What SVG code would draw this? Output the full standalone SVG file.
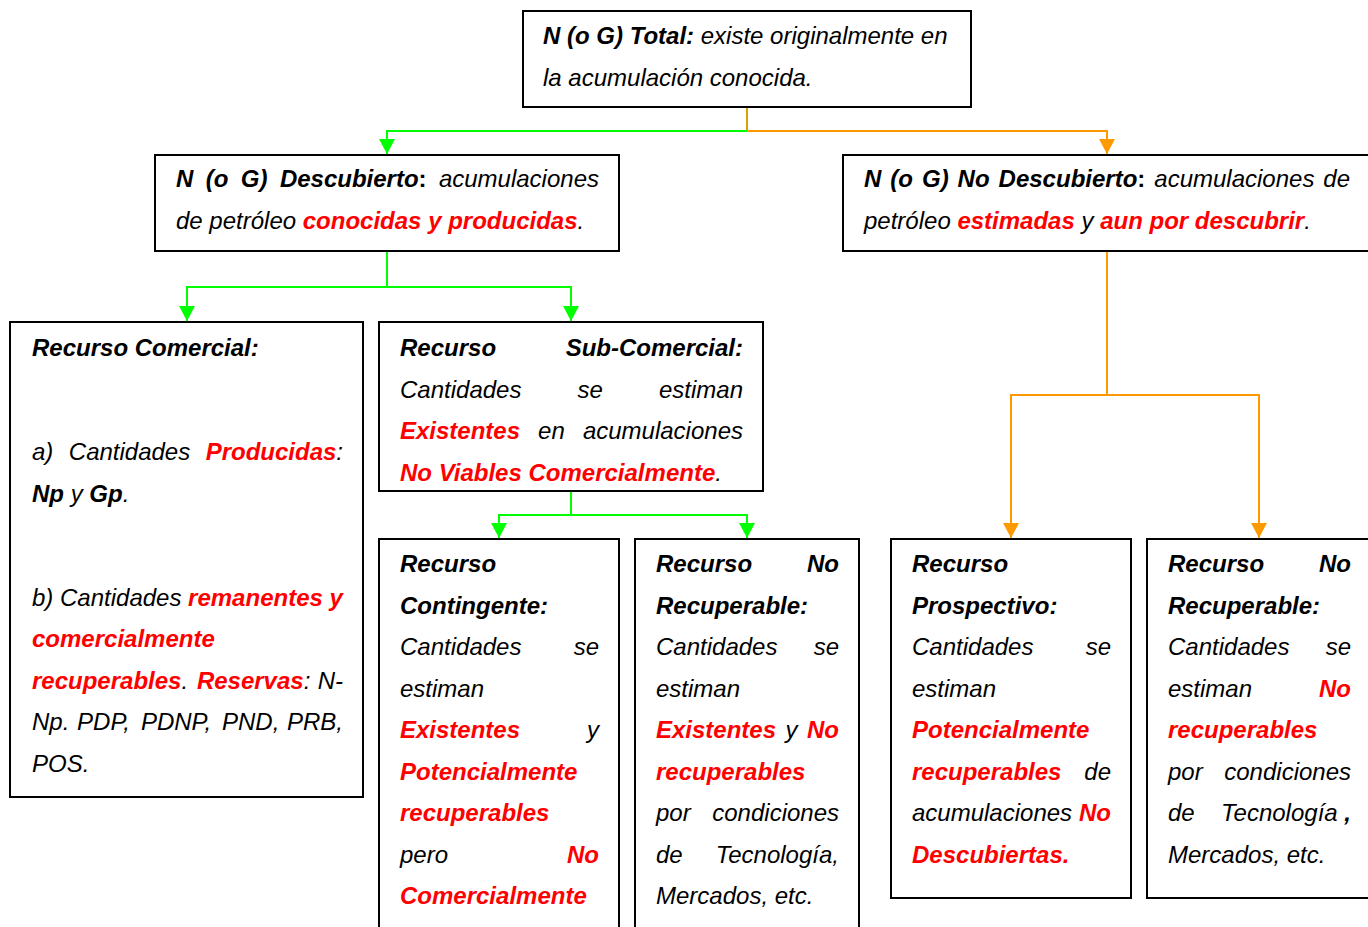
<svg xmlns="http://www.w3.org/2000/svg" width="1368" height="927" viewBox="0 0 1368 927">
  <style>
    .t { font-family: "Liberation Sans", Arial, "DejaVu Sans", sans-serif; font-size: 24px; font-style: italic; fill: #000; }
    .b { font-weight: bold; }
    .u { font-style: normal; }
    .r { font-weight: bold; fill: #ff0000; }
    .e { text-anchor: end; }
    .box { fill: #fff; stroke: #000; stroke-width: 2; }
    .g { fill: none; stroke: #00ff00; stroke-width: 2; }
    .o { fill: none; stroke: #ff9900; stroke-width: 2; }
    .stub { fill: none; stroke: #d8a200; stroke-width: 2; }
  </style>
  <defs>
    <marker id="arrowG" markerUnits="userSpaceOnUse" markerWidth="15" markerHeight="16" viewBox="0 0 15 16" refX="15" refY="8" orient="auto">
      <path d="M0,0 L15,8 L0,16 z" fill="#00ff00"/>
    </marker>
    <marker id="arrowO" markerUnits="userSpaceOnUse" markerWidth="15" markerHeight="16" viewBox="0 0 15 16" refX="15" refY="8" orient="auto">
      <path d="M0,0 L15,8 L0,16 z" fill="#ff9900"/>
    </marker>
  </defs>
  <rect width="1368" height="927" fill="#fff"/>

  <!-- connectors -->
  <g id="connectors">
    <path class="stub" d="M747 107 V131"/>
    <path class="g" d="M747 131 H387 V154" marker-end="url(#arrowG)"/>
    <path class="o" d="M747 131 H1107 V154" marker-end="url(#arrowO)"/>
    <path class="g" d="M387 251 V287 H187 V321" marker-end="url(#arrowG)"/>
    <path class="g" d="M387 287 H571 V321" marker-end="url(#arrowG)"/>
    <path class="g" d="M571 491 V515 H499 V538" marker-end="url(#arrowG)"/>
    <path class="g" d="M571 515 H747 V538" marker-end="url(#arrowG)"/>
    <path class="o" d="M1107 251 V395 H1011 V538" marker-end="url(#arrowO)"/>
    <path class="o" d="M1107 395 H1259 V538" marker-end="url(#arrowO)"/>
  </g>

  <!-- root -->
  <g id="total">
    <rect class="box" x="523" y="11" width="448" height="96"/>
    <text class="t" x="543" y="44"><tspan class="b">N (o G) Total:</tspan> existe originalmente en</text>
    <text class="t" x="543" y="85.5">la acumulación conocida.</text>
  </g>

  <g id="descubierto">
    <rect class="box" x="155" y="155" width="464" height="96"/>
    <text class="t b" y="187"><tspan x="176">N</tspan><tspan x="205.7">(o</tspan><tspan x="240.8">G)</tspan><tspan x="279.9">Descubierto</tspan><tspan class="u">:</tspan></text>
    <text class="t e" x="599" y="187">acumulaciones</text>
    <text class="t" x="176" y="228.5">de petróleo <tspan class="r">conocidas y producidas</tspan>.</text>
  </g>

  <g id="no-descubierto">
    <rect class="box" x="843" y="155" width="545" height="96"/>
    <text class="t b" y="187"><tspan x="864">N</tspan><tspan x="890.3">(o</tspan><tspan x="922">G)</tspan><tspan x="957.6">No</tspan><tspan x="998.6">Descubierto</tspan><tspan class="u">:</tspan></text>
    <text class="t" x="1154.3" y="187">acumulaciones</text>
    <text class="t e" x="1350" y="187">de</text>
    <text class="t" x="864" y="228.5">petróleo <tspan class="r">estimadas</tspan> y <tspan class="r">aun por descubrir</tspan>.</text>
  </g>

  <g id="comercial">
    <rect class="box" x="10" y="322" width="353" height="475"/>
    <text class="t b" x="32" y="356">Recurso Comercial:</text>
    <text class="t" x="32" y="460">a)</text>
    <text class="t" x="68.8" y="460">Cantidades</text>
    <text class="t e" x="343" y="460"><tspan class="r">Producidas</tspan>:</text>
    <text class="t" x="32" y="501.5"><tspan class="b">Np</tspan> y <tspan class="b">Gp</tspan>.</text>
    <text class="t" x="32" y="605.5">b) Cantidades <tspan class="r">remanentes y</tspan></text>
    <text class="t r" x="32" y="647">comercialmente</text>
    <text class="t" x="32" y="688.5"><tspan class="r">recuperables</tspan>.</text>
    <text class="t" x="196.9" y="688.5"><tspan class="r">Reservas</tspan>:</text>
    <text class="t e" x="343" y="688.5">N-</text>
    <text class="t" y="730"><tspan x="32">Np.</tspan><tspan x="77.1">PDP,</tspan><tspan x="140.9">PDNP,</tspan><tspan x="222">PND,</tspan></text>
    <text class="t e" x="343" y="730">PRB,</text>
    <text class="t" x="32" y="771.5">POS.</text>
  </g>

  <g id="sub-comercial">
    <rect class="box" x="379" y="322" width="384" height="169"/>
    <text class="t b" x="400" y="356">Recurso</text>
    <text class="t b e" x="743" y="356">Sub-Comercial:</text>
    <text class="t" x="400" y="397.5">Cantidades</text>
    <text class="t" x="577.5" y="397.5">se</text>
    <text class="t e" x="743" y="397.5">estiman</text>
    <text class="t r" x="400" y="439">Existentes</text>
    <text class="t" x="538.1" y="439">en</text>
    <text class="t e" x="743" y="439">acumulaciones</text>
    <text class="t" x="400" y="480.5"><tspan class="r">No Viables Comercialmente</tspan>.</text>
  </g>

  <g id="contingente">
    <rect class="box" x="379" y="539" width="240" height="410"/>
    <text class="t b" x="400" y="572">Recurso</text>
    <text class="t b" x="400" y="613.5">Contingente:</text>
    <text class="t" x="400" y="655">Cantidades</text>
    <text class="t e" x="599" y="655">se</text>
    <text class="t" x="400" y="696.5">estiman</text>
    <text class="t r" x="400" y="738">Existentes</text>
    <text class="t e" x="599" y="738">y</text>
    <text class="t r" x="400" y="779.5">Potencialmente</text>
    <text class="t r" x="400" y="821">recuperables</text>
    <text class="t" x="400" y="862.5">pero</text>
    <text class="t r e" x="599" y="862.5">No</text>
    <text class="t r" x="400" y="904">Comercialmente</text>
  </g>

  <g id="no-recuperable-descubierto">
    <rect class="box" x="635" y="539" width="224" height="410"/>
    <text class="t b" x="656" y="572">Recurso</text>
    <text class="t b e" x="839" y="572">No</text>
    <text class="t b" x="656" y="613.5">Recuperable:</text>
    <text class="t" x="656" y="655">Cantidades</text>
    <text class="t e" x="839" y="655">se</text>
    <text class="t" x="656" y="696.5">estiman</text>
    <text class="t r" x="656" y="738">Existentes</text>
    <text class="t" x="785.5" y="738">y</text>
    <text class="t r e" x="839" y="738">No</text>
    <text class="t r" x="656" y="779.5">recuperables</text>
    <text class="t" x="656" y="821">por</text>
    <text class="t e" x="839" y="821">condiciones</text>
    <text class="t" x="656" y="862.5">de</text>
    <text class="t e" x="839" y="862.5">Tecnología,</text>
    <text class="t" x="656" y="904">Mercados, etc.</text>
  </g>

  <g id="prospectivo">
    <rect class="box" x="891" y="539" width="240" height="359"/>
    <text class="t b" x="912" y="572">Recurso</text>
    <text class="t b" x="912" y="613.5">Prospectivo:</text>
    <text class="t" x="912" y="655">Cantidades</text>
    <text class="t e" x="1111" y="655">se</text>
    <text class="t" x="912" y="696.5">estiman</text>
    <text class="t r" x="912" y="738">Potencialmente</text>
    <text class="t r" x="912" y="779.5">recuperables</text>
    <text class="t e" x="1111" y="779.5">de</text>
    <text class="t" x="912" y="821">acumulaciones</text>
    <text class="t r e" x="1111" y="821">No</text>
    <text class="t r" x="912" y="862.5">Descubiertas.</text>
  </g>

  <g id="no-recuperable-no-descubierto">
    <rect class="box" x="1147" y="539" width="240" height="359"/>
    <text class="t b" x="1168" y="572">Recurso</text>
    <text class="t b e" x="1351" y="572">No</text>
    <text class="t b" x="1168" y="613.5">Recuperable:</text>
    <text class="t" x="1168" y="655">Cantidades</text>
    <text class="t e" x="1351" y="655">se</text>
    <text class="t" x="1168" y="696.5">estiman</text>
    <text class="t r e" x="1351" y="696.5">No</text>
    <text class="t r" x="1168" y="738">recuperables</text>
    <text class="t" x="1168" y="779.5">por</text>
    <text class="t e" x="1351" y="779.5">condiciones</text>
    <text class="t" x="1168" y="821">de</text>
    <text class="t e" x="1351" y="821">Tecnología <tspan class="b">,</tspan></text>
    <text class="t" x="1168" y="862.5">Mercados, etc.</text>
  </g>
</svg>
